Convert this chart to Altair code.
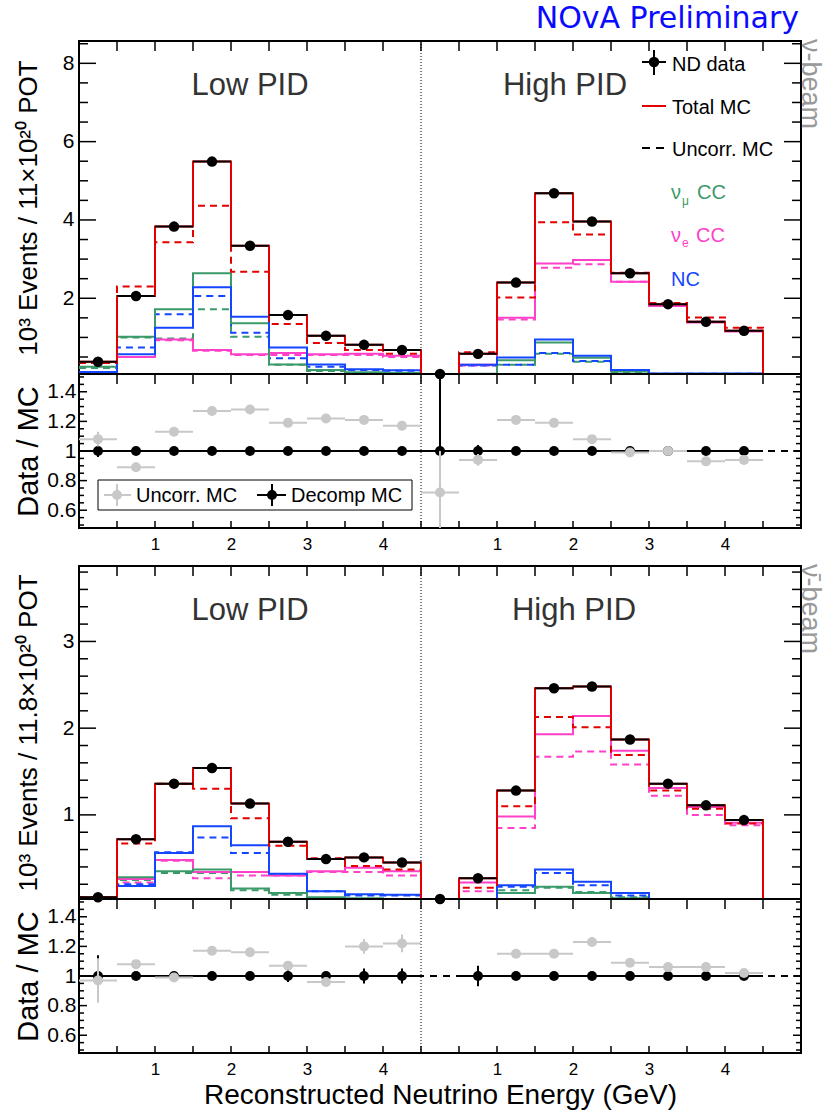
import altair as alt
import pandas as pd

FONT = "Liberation Sans"
W, HM, HR = 722, 333, 154
H = HM + HR

RED = "#e50000"
GREEN = "#3a9a6a"
MAGENTA = "#ff40c8"
BLUE = "#1446ff"
GRAY = "#c8c8c8"

# 19 bins of 0.5 GeV on a combined axis: Low PID 0-4.5, High PID 4.5-9.5
bin_lo = [0.0, 0.5, 1.0, 1.5, 2.0, 2.5, 3.0, 3.5, 4.0, 4.5, 5.0, 5.5, 6.0, 6.5, 7.0, 7.5, 8.0, 8.5, 9.0]
bin_hi = [0.5, 1.0, 1.5, 2.0, 2.5, 3.0, 3.5, 4.0, 4.5, 5.0, 5.5, 6.0, 6.5, 7.0, 7.5, 8.0, 8.5, 9.0, 9.5]
bin_c = [0.25, 0.75, 1.25, 1.75, 2.25, 2.75, 3.25, 3.75, 4.25, 4.75, 5.25, 5.75, 6.25, 6.75, 7.25, 7.75, 8.25, 8.75, 9.25]
x_tick_vals = [1, 2, 3, 4, 5.5, 6.5, 7.5, 8.5]

# ---------------- neutrino beam ----------------
nu_data = [0.38, 2.06, 3.83, 5.49, 3.34, 1.57, 1.04, 0.81, 0.68, 0.0, 0.58, 2.40, 4.68, 3.96, 2.64, 1.85, 1.40, 1.17, None]
nu_total = [0.38, 2.06, 3.83, 5.49, 3.34, 1.57, 1.04, 0.81, 0.68, 0.0, 0.58, 2.40, 4.68, 3.96, 2.64, 1.85, 1.40, 1.17, 0.0]
nu_uncorr = [0.35, 2.30, 3.43, 4.36, 2.68, 1.34, 0.86, 0.68, 0.58, 0.0, 0.62, 2.02, 3.94, 3.63, 2.65, 1.88, 1.51, 1.25, 0.0]
nu_numu = [0.25, 1.02, 1.72, 2.64, 1.36, 0.31, 0.17, 0.11, 0.09, 0.0, 0.07, 0.42, 0.87, 0.48, 0.13, 0.05, 0.04, 0.03, 0.0]
nu_numu_u = [0.22, 1.00, 0.97, 1.72, 1.02, 0.30, 0.14, 0.09, 0.07, 0.0, 0.05, 0.30, 0.58, 0.38, 0.12, 0.04, 0.03, 0.02, 0.0]
nu_nue = [0.05, 0.50, 0.95, 0.68, 0.57, 0.60, 0.57, 0.58, 0.53, 0.0, 0.30, 1.50, 2.89, 2.98, 2.42, 1.80, 1.38, 1.15, 0.0]
nu_nue_u = [0.05, 0.50, 0.93, 0.66, 0.55, 0.55, 0.55, 0.55, 0.50, 0.0, 0.28, 1.46, 2.78, 2.87, 2.42, 1.80, 1.40, 1.17, 0.0]
nu_nc = [0.12, 0.57, 1.25, 2.28, 1.53, 0.74, 0.31, 0.19, 0.16, 0.0, 0.30, 0.49, 0.95, 0.53, 0.17, 0.08, 0.08, 0.08, 0.0]
nu_nc_u = [0.10, 0.74, 1.59, 2.06, 1.12, 0.47, 0.25, 0.17, 0.15, 0.0, 0.28, 0.30, 0.60, 0.40, 0.15, 0.07, 0.07, 0.07, 0.0]

nu_r_decomp = [1, 1, 1, 1, 1, 1, 1, 1, 1, 1, 1, 1, 1, 1, 1, 1, 1, 1, None]
nu_r_decomp_elo = [0.04, 0.01, 0.01, 0.01, 0.01, 0.01, 0.02, 0.02, 0.02, 0.11, 0.04, 0.01, 0.01, 0.01, 0.01, 0.01, 0.02, 0.02, None]
nu_r_decomp_ehi = [0.04, 0.01, 0.01, 0.01, 0.01, 0.01, 0.02, 0.02, 0.02, 0.70, 0.04, 0.01, 0.01, 0.01, 0.01, 0.01, 0.02, 0.02, None]
nu_r_uncorr = [1.08, 0.89, 1.13, 1.27, 1.28, 1.19, 1.22, 1.21, 1.17, 0.72, 0.94, 1.21, 1.19, 1.08, 0.99, 1.00, 0.93, 0.94, None]
nu_r_uncorr_err = [0.05, 0.02, 0.02, 0.02, 0.02, 0.02, 0.02, 0.03, 0.03, 0.28, 0.04, 0.02, 0.02, 0.02, 0.02, 0.02, 0.02, 0.02, None]

# ---------------- antineutrino beam ----------------
nb_data = [0.05, 0.72, 1.36, 1.54, 1.13, 0.69, 0.49, 0.51, 0.45, 0.0, 0.27, 1.28, 2.46, 2.48, 1.87, 1.36, 1.11, 0.94, None]
nb_total = [0.05, 0.72, 1.36, 1.54, 1.13, 0.69, 0.49, 0.51, 0.45, 0.0, 0.27, 1.28, 2.46, 2.48, 1.87, 1.36, 1.11, 0.94, 0.0]
nb_uncorr = [0.05, 0.67, 1.36, 1.30, 0.96, 0.645, 0.50, 0.41, 0.37, 0.0, 0.16, 1.10, 2.13, 2.01, 1.69, 1.28, 1.07, 0.90, 0.0]
nb_numu = [0.02, 0.28, 0.35, 0.37, 0.15, 0.10, 0.05, 0.04, 0.03, 0.0, 0.02, 0.10, 0.17, 0.10, 0.04, 0.02, 0.01, 0.01, 0.0]
nb_numu_u = [0.02, 0.25, 0.33, 0.33, 0.13, 0.08, 0.04, 0.03, 0.02, 0.0, 0.02, 0.13, 0.16, 0.11, 0.05, 0.02, 0.01, 0.01, 0.0]
nb_nue = [0.0, 0.26, 0.48, 0.34, 0.34, 0.30, 0.35, 0.39, 0.35, 0.0, 0.22, 0.98, 1.93, 2.14, 1.74, 1.31, 1.09, 0.91, 0.0]
nb_nue_u = [0.0, 0.22, 0.47, 0.27, 0.30, 0.30, 0.34, 0.34, 0.30, 0.0, 0.12, 0.85, 1.67, 1.73, 1.58, 1.22, 1.00, 0.88, 0.0]
nb_nc = [0.03, 0.18, 0.56, 0.87, 0.65, 0.32, 0.12, 0.085, 0.08, 0.0, 0.02, 0.19, 0.37, 0.23, 0.10, 0.03, 0.02, 0.02, 0.0]
nb_nc_u = [0.03, 0.20, 0.57, 0.74, 0.56, 0.31, 0.12, 0.07, 0.07, 0.0, 0.02, 0.17, 0.33, 0.19, 0.07, 0.03, 0.02, 0.02, 0.0]

nb_r_decomp = [1, 1, 1, 1, 1, 1, 1, 1, 1, None, 1, 1, 1, 1, 1, 1, 1, 1, None]
nb_r_decomp_elo = [0.14, 0.02, 0.02, 0.02, 0.02, 0.04, 0.02, 0.05, 0.05, None, 0.07, 0.02, 0.02, 0.02, 0.02, 0.02, 0.02, 0.02, None]
nb_r_decomp_ehi = [0.14, 0.02, 0.02, 0.02, 0.02, 0.04, 0.02, 0.05, 0.05, None, 0.07, 0.02, 0.02, 0.02, 0.02, 0.02, 0.02, 0.02, None]
nb_r_uncorr = [0.97, 1.08, 0.99, 1.17, 1.16, 1.07, 0.96, 1.20, 1.22, None, None, 1.15, 1.15, 1.23, 1.09, 1.06, 1.06, 1.02, None]
nb_r_uncorr_err = [0.15, 0.03, 0.02, 0.02, 0.03, 0.03, 0.03, 0.05, 0.06, None, None, 0.02, 0.02, 0.02, 0.02, 0.02, 0.02, 0.02, None]

RATIO_DOM = [0.48, 1.52]
ratio_major = [0.6, 0.8, 1.0, 1.2, 1.4]
ratio_minor = [round(0.5 + 0.05 * i, 2) for i in range(21) if round(0.5 + 0.05 * i, 2) not in ratio_major]
x_ticks = [0.5 * i for i in range(1, 19)]

DUMMY = pd.DataFrame({"d": [0]})


def label(txt, x, y, size, color="black", align="left", baseline="middle", angle=0, font=FONT):
    return alt.Chart(DUMMY).mark_text(
        text=txt, align=align, baseline=baseline, fontSize=size, color=color, font=font, angle=angle
    ).encode(x=alt.value(x), y=alt.value(y))


def hrule(x1, x2, y, color="black", width=2, dash=None):
    kw = dict(color=color, strokeWidth=width)
    if dash:
        kw["strokeDash"] = dash
    return alt.Chart(DUMMY).mark_rule(**kw).encode(x=alt.value(x1), x2=alt.value(x2), y=alt.value(y))


def step_df(vals):
    return pd.DataFrame({"x": bin_lo + [9.5], "y": list(vals) + [vals[-1]]})


def pts_df(vals, elo=None, ehi=None):
    rows = []
    for i, v in enumerate(vals):
        if v is None:
            continue
        r = {"c": bin_c[i], "lo": bin_lo[i], "hi": bin_hi[i], "y": v}
        if elo is not None:
            r["ylo"] = v - elo[i]
            r["yhi"] = v + ehi[i]
        rows.append(r)
    return pd.DataFrame(rows)


def make_group(hists, data, r_dec, r_dec_lo, r_dec_hi, r_unc, r_unc_err,
               main_title, main_dom, main_major, main_minor, beam_label,
               x_title, high_x, top_panel):
    xs = alt.Scale(domain=[0, 9.5], nice=False, zero=False)
    ys_m = alt.Scale(domain=main_dom, range=[HM, 0], nice=False, zero=False, clamp=True)
    ys_r = alt.Scale(domain=RATIO_DOM, range=[H, HM], nice=False, zero=False, clamp=True)

    xkw = dict(values=x_tick_vals,
               labelExpr="datum.value > 4.5 ? format(datum.value - 4.5, 'd') : format(datum.value, 'd')",
               ticks=False, domain=False, grid=False, labelFont=FONT, labelFontSize=17,
               labelColor="black", labelPadding=8)
    if x_title:
        xkw.update(title=x_title, titleFont=FONT, titleFontSize=28, titleFontWeight="normal",
                   titleColor="black", titlePadding=4)
    else:
        xkw.update(title=None)
    x_axis = alt.Axis(**xkw)

    ym_axis = alt.Axis(orient="left", values=main_major, format="d", ticks=False, domain=False, grid=False,
                       labelFont=FONT, labelFontSize=21, labelColor="black", labelPadding=5,
                       title=main_title, titleFont=FONT, titleFontSize=26, titleFontWeight="normal",
                       titleColor="black", titleX=-43, titleY=HM / 2, titleAngle=270,
                       titleAlign="center", titleBaseline="alphabetic")
    yr_axis = alt.Axis(orient="left", values=ratio_major,
                       labelExpr="datum.value == 1 ? '1' : format(datum.value, '.1f')",
                       ticks=False, domain=False, grid=False,
                       labelFont=FONT, labelFontSize=21, labelColor="black", labelPadding=3,
                       title="Data / MC", titleFont=FONT, titleFontSize=29, titleFontWeight="normal",
                       titleColor="black", titleX=-42, titleY=HM + HR / 2, titleAngle=270,
                       titleAlign="center", titleBaseline="alphabetic")

    def X(f):
        return alt.X(f, type="quantitative", scale=xs, axis=x_axis)

    def YM(f):
        return alt.Y(f, type="quantitative", scale=ys_m, axis=ym_axis)

    def YR(f):
        return alt.Y(f, type="quantitative", scale=ys_r, axis=yr_axis)

    # ---------- main panel ----------
    m = []
    m.append(alt.Chart(pd.DataFrame({"x": [4.5]})).mark_rule(color="black", strokeDash=[1, 2], strokeWidth=1)
             .encode(x=X("x")))
    for vals, color, dash in hists:
        kw = dict(interpolate="step-after", color=color, strokeWidth=2)
        if dash:
            kw["strokeDash"] = dash
        m.append(alt.Chart(step_df(vals)).mark_line(**kw).encode(x=X("x"), y=YM("y")))
    ddf = pts_df(data)
    m.append(alt.Chart(ddf).mark_rule(color="black", strokeWidth=2).encode(x=X("lo"), x2="hi", y=YM("y")))
    m.append(alt.Chart(ddf).mark_circle(color="black", size=110, opacity=1).encode(x=X("c"), y=YM("y")))
    # ticks
    for vals, ln in ((main_major, 17), (main_minor, 9)):
        tdf = pd.DataFrame({"t": vals})
        m.append(alt.Chart(tdf).mark_rule(color="black", strokeWidth=1.5)
                 .encode(y=YM("t"), x=alt.value(0), x2=alt.value(ln)))
        m.append(alt.Chart(tdf).mark_rule(color="black", strokeWidth=1.5)
                 .encode(y=YM("t"), x=alt.value(W), x2=alt.value(W - ln)))
    m.append(alt.Chart(pd.DataFrame({"t": x_ticks})).mark_rule(color="black", strokeWidth=1.5)
             .encode(x=X("t"), y=alt.value(0), y2=alt.value(10)))
    # text
    m.append(label("Low PID", 171, 54, 31, "#333333", align="center", baseline="alphabetic"))
    m.append(label("High PID", high_x, 54, 31, "#333333", align="center", baseline="alphabetic"))
    m.append(label(beam_label, 723, -2, 27, "#999999", align="left", baseline="alphabetic", angle=90))
    if top_panel:
        m.append(label("NOvA Preliminary", 720, -13, 30, "#0a0aff", align="right",
                       baseline="alphabetic", font="DejaVu Sans"))
        # legend
        m.append(hrule(563, 587, 21))
        m.append(alt.Chart(DUMMY).mark_rule(color="black", strokeWidth=2)
                 .encode(x=alt.value(575), y=alt.value(9), y2=alt.value(34)))
        m.append(alt.Chart(DUMMY).mark_circle(color="black", size=110, opacity=1)
                 .encode(x=alt.value(575), y=alt.value(21)))
        m.append(label("ND data", 593, 24, 20))
        m.append(hrule(563, 587, 65, RED))
        m.append(label("Total MC", 593, 67, 20))
        m.append(hrule(563, 587, 107, "black", dash=[8, 6]))
        m.append(label("Uncorr. MC", 593, 109, 20))
        m.append(label("ν", 592, 152, 20, GREEN))
        m.append(label("μ", 603, 160, 12, GREEN))
        m.append(label("CC", 618, 152, 20, GREEN))
        m.append(label("ν", 592, 195, 20, MAGENTA))
        m.append(label("e", 603, 202, 12, MAGENTA))
        m.append(label("CC", 617, 195, 20, MAGENTA))
        m.append(label("NC", 592, 239, 20, BLUE))
    main = alt.layer(*m)

    # ---------- ratio panel ----------
    r = []
    r.append(alt.Chart(pd.DataFrame({"y": [1.0]})).mark_rule(color="black", strokeWidth=2, strokeDash=[7, 6])
             .encode(y=YR("y")))
    for vals, ln in ((ratio_major, 8), (ratio_minor, 5)):
        tdf = pd.DataFrame({"t": vals})
        r.append(alt.Chart(tdf).mark_rule(color="black", strokeWidth=1.5)
                 .encode(y=YR("t"), x=alt.value(0), x2=alt.value(ln)))
        r.append(alt.Chart(tdf).mark_rule(color="black", strokeWidth=1.5)
                 .encode(y=YR("t"), x=alt.value(W), x2=alt.value(W - ln)))
    xt = pd.DataFrame({"t": x_ticks})
    r.append(alt.Chart(xt).mark_rule(color="black", strokeWidth=1.5)
             .encode(x=X("t"), y=alt.value(HM), y2=alt.value(HM + 10)))
    r.append(alt.Chart(xt).mark_rule(color="black", strokeWidth=1.5)
             .encode(x=X("t"), y=alt.value(H), y2=alt.value(H - 7)))
    r.append(hrule(0, W, HM, "black", 2))
    bdf = pts_df(r_dec, r_dec_lo, r_dec_hi)
    r.append(alt.Chart(bdf).mark_rule(color="black", strokeWidth=2).encode(x=X("lo"), x2="hi", y=YR("y")))
    r.append(alt.Chart(bdf).mark_rule(color="black", strokeWidth=2).encode(x=X("c"), y=YR("ylo"), y2="yhi"))
    r.append(alt.Chart(bdf).mark_circle(color="black", size=100, opacity=1).encode(x=X("c"), y=YR("y")))
    gdf = pts_df(r_unc, r_unc_err, r_unc_err)
    r.append(alt.Chart(gdf).mark_rule(color=GRAY, strokeWidth=2).encode(x=X("lo"), x2="hi", y=YR("y")))
    r.append(alt.Chart(gdf).mark_rule(color=GRAY, strokeWidth=2).encode(x=X("c"), y=YR("ylo"), y2="yhi"))
    r.append(alt.Chart(gdf).mark_circle(color=GRAY, size=100, opacity=1).encode(x=X("c"), y=YR("y")))
    if top_panel:
        r.append(alt.Chart(DUMMY).mark_rect(fill="white", stroke="black", strokeWidth=1)
                 .encode(x=alt.value(19), x2=alt.value(333), y=alt.value(HM + 106), y2=alt.value(HM + 136)))
        r.append(hrule(25, 52, HM + 121, GRAY))
        r.append(alt.Chart(DUMMY).mark_rule(color=GRAY, strokeWidth=2)
                 .encode(x=alt.value(38), y=alt.value(HM + 110), y2=alt.value(HM + 132)))
        r.append(alt.Chart(DUMMY).mark_circle(color=GRAY, size=100, opacity=1)
                 .encode(x=alt.value(38), y=alt.value(HM + 121)))
        r.append(label("Uncorr. MC", 57, HM + 122, 20))
        r.append(hrule(178, 207, HM + 121, "black"))
        r.append(alt.Chart(DUMMY).mark_rule(color="black", strokeWidth=2)
                 .encode(x=alt.value(193), y=alt.value(HM + 110), y2=alt.value(HM + 132)))
        r.append(alt.Chart(DUMMY).mark_circle(color="black", size=100, opacity=1)
                 .encode(x=alt.value(193), y=alt.value(HM + 121)))
        r.append(label("Decomp MC", 212, HM + 122, 20))
    ratio = alt.layer(*r)

    return (alt.layer(main, ratio)
            .resolve_scale(y="independent")
            .resolve_axis(y="independent")
            .properties(width=W, height=H))


def hist_set(numu_u, nue_u, nc_u, numu, nue, nc, unc, tot):
    return [
        (nue_u, MAGENTA, [7, 5]),
        (numu_u, GREEN, [7, 5]),
        (nc_u, BLUE, [7, 5]),
        (nue, MAGENTA, None),
        (numu, GREEN, None),
        (nc, BLUE, None),
        (unc, RED, [7, 5]),
        (tot, RED, None),
    ]


top = make_group(
    hist_set(nu_numu_u, nu_nue_u, nu_nc_u, nu_numu, nu_nue, nu_nc, nu_uncorr, nu_total),
    nu_data, nu_r_decomp, nu_r_decomp_elo, nu_r_decomp_ehi, nu_r_uncorr, nu_r_uncorr_err,
    "10³ Events / 11×10²⁰ POT", [0.066, 8.57], [2, 4, 6, 8],
    [0.5, 1, 1.5, 2.5, 3, 3.5, 4.5, 5, 5.5, 6.5, 7, 7.5, 8.5],
    "ν-beam", None, 486, True)

bottom = make_group(
    hist_set(nb_numu_u, nb_nue_u, nb_nc_u, nb_numu, nb_nue, nb_nc, nb_uncorr, nb_total),
    nb_data, nb_r_decomp, nb_r_decomp_elo, nb_r_decomp_ehi, nb_r_uncorr, nb_r_uncorr_err,
    "10³ Events / 11.8×10²⁰ POT", [0.03, 3.87], [1, 2, 3],
    [0.2, 0.4, 0.6, 0.8, 1.2, 1.4, 1.6, 1.8, 2.2, 2.4, 2.6, 2.8, 3.2, 3.4, 3.6, 3.8],
    "ν̄-beam", "Reconstructed Neutrino Energy (GeV)", 495, False)

chart = (alt.vconcat(top, bottom, spacing=10)
         .properties(padding={"left": 13, "top": 3, "right": 0, "bottom": 2}, background="white")
         .configure_view(stroke="black", strokeWidth=2))

chart.save("out.html", embed_options={"renderer": "svg", "actions": False})
